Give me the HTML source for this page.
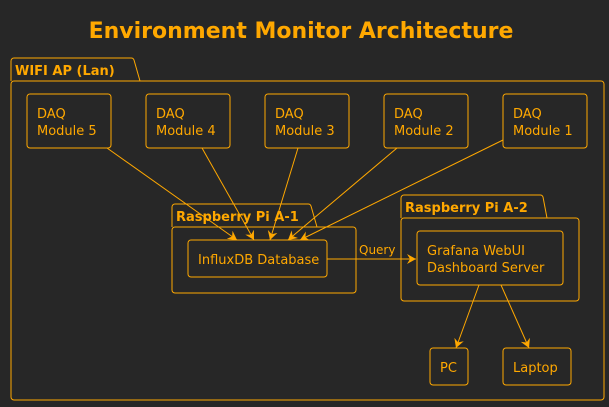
<!DOCTYPE html>
<html><head><style>
body{margin:0;background:#272727;}
svg{display:block;font-family:"DejaVu Sans","Liberation Sans",sans-serif;}
</style></head><body>
<svg width="609" height="407" viewBox="0 0 609 407" xmlns="http://www.w3.org/2000/svg">
<defs><marker id="a" markerWidth="10" markerHeight="10" refX="9" refY="5" orient="auto" markerUnits="userSpaceOnUse"><path d="M0,0 L9,5 L0,10 L3,5 Z" fill="#FFA800"/></marker></defs>
<rect width="609" height="407" fill="#272727"/>
<text x="301" y="38" text-anchor="middle" font-size="22" font-weight="bold" fill="#FFA800">Environment Monitor Architecture</text>
<g fill="none" stroke="#FFA800" stroke-width="1">
<path d="M11,81 V61 a3,3 0 0 1 3,-3 H131 a3,3 0 0 1 3,2 L140,81"/>
<rect x="11" y="81" width="593" height="319" rx="3"/>
<rect x="27" y="94" width="84" height="54" rx="3"/>
<rect x="146" y="94" width="84" height="54" rx="3"/>
<rect x="265" y="94" width="84" height="54" rx="3"/>
<rect x="384" y="94" width="84" height="54" rx="3"/>
<rect x="503" y="94" width="84" height="54" rx="3"/>
<path d="M172,227 V207 a3,3 0 0 1 3,-3 H308 a3,3 0 0 1 3,2 L317,227"/>
<rect x="172" y="227" width="184" height="66" rx="3"/>
<rect x="188" y="240" width="139" height="37" rx="3"/>
<path d="M401,218 V198 a3,3 0 0 1 3,-3 H540 a3,3 0 0 1 3,2 L547,218"/>
<rect x="401" y="218" width="178" height="83" rx="3"/>
<rect x="417" y="231" width="146" height="54" rx="3"/>
<rect x="430" y="348" width="38" height="37" rx="3"/>
<rect x="503" y="348" width="68" height="37" rx="3"/>
<g marker-end="url(#a)">
<line x1="107" y1="148" x2="237" y2="240"/>
<line x1="202" y1="148" x2="254" y2="240"/>
<line x1="298" y1="148" x2="270" y2="240"/>
<line x1="397" y1="148" x2="288" y2="240"/>
<line x1="503" y1="140" x2="300" y2="240"/>
<line x1="327" y1="259" x2="416" y2="259"/>
<line x1="479" y1="285" x2="456" y2="348"/>
<line x1="501" y1="285" x2="529" y2="348"/>
</g>
</g>
<g fill="#FFA800" font-size="13">
<text x="15" y="75" font-weight="bold">WIFI AP (Lan)</text>
<text x="176" y="221" font-weight="bold">Raspberry Pi A-1</text>
<text x="405" y="212" font-weight="bold">Raspberry Pi A-2</text>
<text x="37" y="118">DAQ</text><text x="37" y="135">Module 5</text>
<text x="156" y="118">DAQ</text><text x="156" y="135">Module 4</text>
<text x="275" y="118">DAQ</text><text x="275" y="135">Module 3</text>
<text x="394" y="118">DAQ</text><text x="394" y="135">Module 2</text>
<text x="513" y="118">DAQ</text><text x="513" y="135">Module 1</text>
<text x="198" y="264">InfluxDB Database</text>
<text x="427" y="255">Grafana WebUI</text><text x="427" y="272">Dashboard Server</text>
<text x="440" y="372">PC</text>
<text x="513" y="372">Laptop</text>
<text x="359" y="254" font-size="12">Query</text>
</g>
</svg>
</body></html>
